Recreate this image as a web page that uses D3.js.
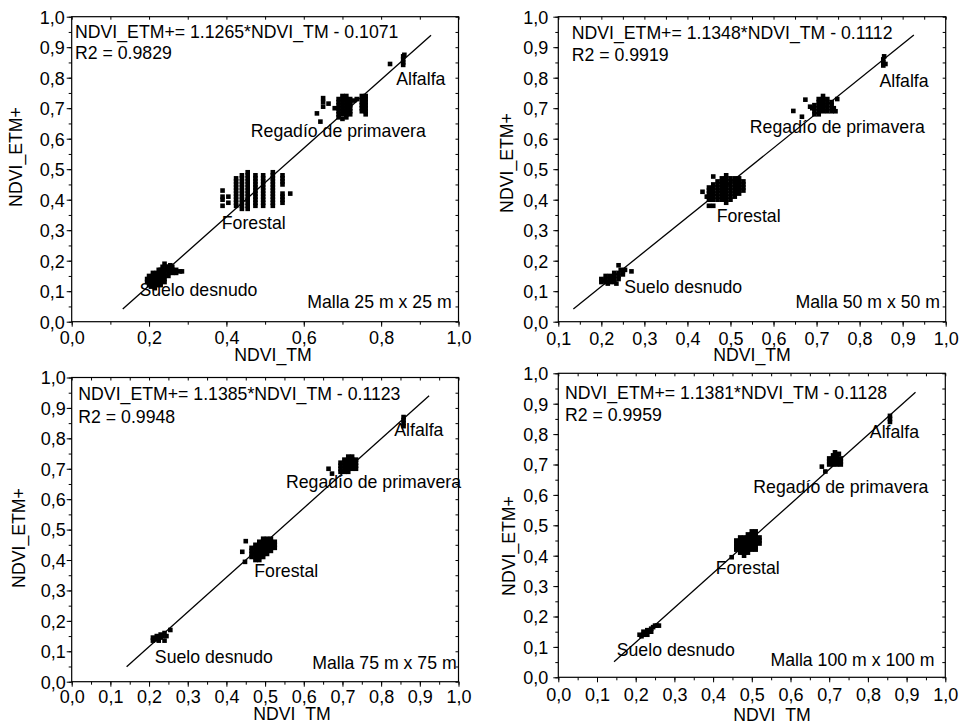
<!DOCTYPE html>
<html>
<head>
<meta charset="utf-8">
<script src="https://cdn.jsdelivr.net/npm/d3@7"></script>
<style>
  html, body { margin: 0; padding: 0; background: #fff; }
  svg text { font-family: "Liberation Sans", Arial, sans-serif; fill: #000; }
</style>
</head>
<body>
<svg id="chart" width="964" height="723"></svg>
<script>
// ---- Data: NDVI from Landsat TM (x) vs ETM+ (y), per cover class, four grid sizes ----
// Columns are written as [x, [y values]] and expanded into points.

// 25 m x 25 m
const g25Suelo = [[0.195,[0.13,0.14]],[0.20,[0.12,0.13,0.14,0.15]],[0.205,[0.115]],[0.21,[0.12,0.13,0.14,0.15,0.16]],
  [0.215,[0.11]],[0.22,[0.12,0.13,0.14,0.15,0.16]],[0.225,[0.17]],[0.23,[0.12,0.13,0.14,0.15,0.16,0.17]],[0.235,[0.18]],
  [0.24,[0.13,0.14,0.15,0.16,0.17,0.19]],[0.245,[0.18]],[0.25,[0.15,0.16,0.17,0.18]],[0.255,[0.185]],
  [0.26,[0.16,0.17,0.18]],[0.27,[0.16,0.17]],[0.28,[0.165]],[0.285,[0.165]]];
const g25Forestal = [[0.39,[0.38,0.40,0.41,0.43]],[0.405,[0.39,0.41]],
  [0.425,[0.38,0.39,0.40,0.41,0.42,0.43,0.44,0.45,0.46,0.47]],
  [0.44,[0.37,0.38,0.39,0.40,0.41,0.42,0.43,0.44,0.45,0.46,0.47,0.48]],
  [0.455,[0.37,0.38,0.39,0.40,0.41,0.42,0.43,0.44,0.45,0.46,0.47,0.48,0.49]],
  [0.475,[0.38,0.39,0.40,0.41,0.42,0.43,0.44,0.45,0.46,0.47,0.48]],
  [0.495,[0.38,0.39,0.40,0.41,0.42,0.43,0.44,0.45,0.46,0.47,0.48]],
  [0.52,[0.38,0.39,0.40,0.41,0.42,0.43,0.44,0.45,0.46,0.47,0.48,0.49]],
  [0.545,[0.39,0.40,0.41,0.42,0.45,0.46,0.47,0.48]],[0.565,[0.42]]];
const g25Regadio = [[0.634,[0.683]],[0.643,[0.656]],[0.65,[0.705,0.72,0.733]],[0.664,[0.715]],[0.68,[0.70]],
  [0.69,[0.67,0.68,0.69,0.70,0.71,0.72,0.73]],[0.70,[0.665,0.68,0.69,0.70,0.71,0.72,0.73,0.74]],
  [0.71,[0.67,0.68,0.69,0.70,0.71,0.72,0.73,0.74]],[0.72,[0.68,0.69,0.70,0.71,0.72,0.73]],
  [0.73,[0.725]],[0.737,[0.73]],[0.75,[0.69,0.70,0.71,0.72,0.73,0.74]],[0.76,[0.68,0.69,0.70,0.71,0.72,0.73,0.74]]];
const g25Alfalfa = [[0.823,[0.845]],[0.857,[0.842,0.85,0.86,0.87]],[0.86,[0.875]]];

// 50 m x 50 m
const g50Suelo = [[0.20,[0.13,0.14]],[0.205,[0.135]],[0.21,[0.13,0.14,0.15]],[0.215,[0.125]],[0.22,[0.13,0.14,0.15]],
  [0.225,[0.145]],[0.23,[0.13,0.14,0.15,0.16]],[0.235,[0.125]],[0.24,[0.14,0.15,0.16,0.185]],[0.245,[0.17]],
  [0.25,[0.155,0.165]],[0.255,[0.17]],[0.27,[0.165]]];
const g50Forestal = [[0.435,[0.426]],[0.445,[0.41]],[0.45,[0.38,0.40,0.41,0.42,0.43,0.44]],
  [0.46,[0.38,0.40,0.41,0.42,0.43,0.44,0.45,0.476]],[0.47,[0.40,0.41,0.42,0.43,0.44,0.45,0.46]],
  [0.48,[0.40,0.41,0.42,0.43,0.44,0.45,0.46,0.47]],[0.49,[0.39,0.40,0.41,0.42,0.43,0.44,0.45,0.46,0.47,0.48]],
  [0.50,[0.40,0.41,0.42,0.43,0.44,0.45,0.46,0.47]],[0.51,[0.41,0.42,0.43,0.44,0.45,0.46,0.47]],
  [0.52,[0.42,0.43,0.44,0.45,0.46,0.47]],[0.53,[0.43,0.44,0.45,0.46]]];
const g50Regadio = [[0.646,[0.691]],[0.666,[0.672]],[0.674,[0.728]],[0.685,[0.705]],[0.69,[0.70]],
  [0.695,[0.68,0.69,0.70,0.71]],[0.705,[0.68,0.69,0.70,0.71,0.72,0.73]],[0.715,[0.69,0.70,0.71,0.72,0.73,0.74]],
  [0.725,[0.69,0.70,0.71,0.72,0.73]],[0.735,[0.69,0.70,0.71,0.72]],[0.74,[0.70]],[0.744,[0.69]],[0.748,[0.73]]];
const g50Alfalfa = [[0.855,[0.84,0.85,0.86]],[0.857,[0.87]],[0.86,[0.845]]];

// 75 m x 75 m
const g75Suelo = [[0.21,[0.135,0.145]],[0.215,[0.14]],[0.22,[0.14,0.15]],[0.225,[0.135]],[0.23,[0.145,0.155]],
  [0.235,[0.15]],[0.24,[0.135,0.16]],[0.245,[0.15]],[0.255,[0.17]]];
const g75Forestal = [[0.441,[0.427]],[0.448,[0.394]],[0.45,[0.462]],[0.465,[0.41,0.42,0.43,0.44]],
  [0.475,[0.40,0.41,0.42,0.43,0.44,0.45]],[0.485,[0.40,0.41,0.42,0.43,0.44,0.45,0.46]],
  [0.495,[0.41,0.42,0.43,0.44,0.45,0.46,0.47]],[0.505,[0.42,0.43,0.44,0.45,0.46,0.47]],
  [0.515,[0.43,0.44,0.45,0.46,0.47]],[0.525,[0.44,0.45,0.46]]];
const g75Regadio = [[0.664,[0.70]],[0.673,[0.684]],[0.695,[0.69,0.70,0.71,0.72]],[0.705,[0.69,0.70,0.71,0.72,0.73]],
  [0.715,[0.69,0.70,0.71,0.72,0.73,0.74]],[0.725,[0.70,0.71,0.72,0.73,0.74]],[0.735,[0.70,0.71,0.72,0.73]]];
const g75Alfalfa = [[0.858,[0.84,0.85,0.86,0.87]]];

// 100 m x 100 m
const g100Suelo = [[0.21,[0.14]],[0.215,[0.135]],[0.22,[0.14,0.15]],[0.225,[0.145]],[0.23,[0.14,0.155]],[0.235,[0.15]],
  [0.24,[0.15,0.16]],[0.245,[0.165]],[0.25,[0.17]],[0.255,[0.17]],[0.26,[0.17]]];
const g100Forestal = [[0.448,[0.395]],[0.46,[0.42,0.43,0.44,0.45]],[0.47,[0.41,0.42,0.43,0.44,0.45,0.46]],
  [0.48,[0.40,0.41,0.42,0.43,0.44,0.45,0.46]],[0.49,[0.41,0.42,0.43,0.44,0.45,0.46,0.47]],
  [0.50,[0.42,0.43,0.44,0.45,0.46,0.47,0.48]],[0.51,[0.42,0.43,0.44,0.45,0.46,0.47,0.48]],[0.52,[0.44,0.45,0.46]]];
const g100Regadio = [[0.681,[0.693]],[0.69,[0.677]],[0.70,[0.70,0.71,0.72]],[0.71,[0.70,0.71,0.72,0.73]],
  [0.715,[0.74]],[0.72,[0.70,0.71,0.72,0.73]],[0.725,[0.735]],[0.73,[0.70,0.71,0.72]]];
const g100Alfalfa = [[0.857,[0.84,0.85,0.86]]];

// Linear fits (ETM+ = slope * TM + intercept) and the TM range each line spans
const fitSlopes     = [1.1265, 1.1348, 1.1385, 1.1381];
const fitIntercepts = [-0.1071, -0.1112, -0.1123, -0.1128];
const fitR2         = [0.9829, 0.9919, 0.9948, 0.9959];
const fitRanges     = [[0.132, 0.929], [0.135, 0.926], [0.142, 0.924], [0.144, 0.923]];
const gridLabels    = ["Malla 25 m x 25 m", "Malla 50 m x 50 m", "Malla 75 m x 75 m", "Malla 100 m x 100 m"];
const classNames    = ["Alfalfa", "Regadío de primavera", "Forestal", "Suelo desnudo"];

// ---- Layout ----
const FS = 17.7;      // annotation and title text
const FS_TICK = 18;   // tick labels
const panels = [
  { frame: [71.7, 16.7, 458.5, 321.7], xDom: [0, 1], xLabStep: 0.2, xMinStep: 0.1,
    data: [g25Suelo, g25Forestal, g25Regadio, g25Alfalfa],
    classPos: [[0.839, 0.776], [0.463, 0.607], [0.388, 0.303], [0.175, 0.084]],
    eq: [3.3, 21.6, 42.6], malla: [6.8, 13.4], yTitle: [15.7, 157], xTitle: [273, 361], yLabGap: 7, xLabDy: 22 },
  { frame: [558.3, 16.7, 945.7, 321.7], xDom: [0.1, 1], xLabStep: 0.1, xMinStep: 0.05,
    data: [g50Suelo, g50Forestal, g50Regadio, g50Alfalfa],
    classPos: [[0.846, 0.768], [0.545, 0.618], [0.468, 0.328], [0.253, 0.093]],
    eq: [13.4, 22.6, 44], malla: [5.7, 13.4], yTitle: [507, 163], xTitle: [752, 361], yLabGap: 10, xLabDy: 23 },
  { frame: [71.7, 377.5, 458.5, 681.7], xDom: [0, 1], xLabStep: 0.1, xMinStep: 0.05,
    data: [g75Suelo, g75Forestal, g75Regadio, g75Alfalfa],
    classPos: [[0.834, 0.808], [0.554, 0.638], [0.472, 0.343], [0.215, 0.06]],
    eq: [6.6, 22.5, 45], malla: [1.8, 12.4], yTitle: [19, 538], xTitle: [292, 719.5], yLabGap: 6, xLabDy: 21 },
  { frame: [558.3, 373.3, 945.3, 677.3], xDom: [0, 1], xLabStep: 0.1, xMinStep: 0.05,
    data: [g100Suelo, g100Forestal, g100Regadio, g100Alfalfa],
    classPos: [[0.805, 0.786], [0.504, 0.607], [0.407, 0.339], [0.151, 0.07]],
    eq: [6.7, 26, 47.4], malla: [10.7, 11.3], yTitle: [509, 546], xTitle: [772, 720.5], yLabGap: 10, xLabDy: 24 }
];
// class label order in classPos: Alfalfa, Regadío, Forestal, Suelo
const svg = d3.select("#chart");
const fmt = v => d3.format(".1f")(v).replace(".", ",");
const expand = cols => cols.flatMap(([x, ys]) => ys.map(y => [x, y]));
const MARK = 4.6;

panels.forEach((p, i) => {
  const [l, t, r, b] = p.frame;
  const x = d3.scaleLinear().domain(p.xDom).range([l, r]);
  const y = d3.scaleLinear().domain([0, 1]).range([b, t]);
  const g = svg.append("g");

  const eps = 1e-9;
  const xLab = d3.range(p.xDom[0], p.xDom[1] + eps, p.xLabStep).map(v => +v.toFixed(2));
  const xMin = d3.range(p.xDom[0], p.xDom[1] + eps, p.xMinStep).map(v => +v.toFixed(3));
  const yLab = d3.range(0, 1 + eps, 0.1).map(v => +v.toFixed(2));
  const yMin = d3.range(0, 1 + eps, 0.05).map(v => +v.toFixed(3));

  // bottom axis: major ticks outward with labels, minor ticks outward
  const bottom = d3.axisBottom(x).tickValues(xLab).tickFormat(fmt).tickSize(5).tickPadding(3);
  const gb = g.append("g").attr("transform", `translate(0,${b})`).call(bottom);
  gb.append("g").call(d3.axisBottom(x).tickValues(xMin).tickSize(3).tickFormat(""));
  // left axis
  const left = d3.axisLeft(y).tickValues(yLab).tickFormat(fmt).tickSize(5).tickPadding(p.yLabGap - 5);
  const gl = g.append("g").attr("transform", `translate(${l},0)`).call(left);
  gl.append("g").call(d3.axisLeft(y).tickValues(yMin).tickSize(3).tickFormat(""));
  // top & right mirrored ticks, inward
  const gt = g.append("g").attr("transform", `translate(0,${t})`).call(d3.axisBottom(x).tickValues(xMin).tickSize(3).tickFormat(""));
  const gr = g.append("g").attr("transform", `translate(${r},0)`).call(d3.axisLeft(y).tickValues(yMin).tickSize(3).tickFormat(""));

  [gb, gl, gt, gr].forEach(a => {
    a.selectAll(".domain").remove();
    a.selectAll("line").attr("stroke", "#000").attr("stroke-width", 1);
    a.selectAll("text").attr("font-size", FS_TICK).attr("font-family", '"Liberation Sans", Arial, sans-serif').attr("fill", "#000");
  });
  gb.selectAll(".tick text").attr("dy", null).attr("y", null)
    .attr("transform", `translate(0,${p.xLabDy})`);
  gl.selectAll(".tick text").attr("dy", "0.35em");

  // frame
  g.append("rect").attr("x", l).attr("y", t).attr("width", r - l).attr("height", b - t)
    .attr("fill", "none").attr("stroke", "#000").attr("stroke-width", 1.2);

  // points
  const pts = p.data.flatMap(expand);
  g.append("g").selectAll("rect").data(pts).join("rect")
    .attr("x", d => x(d[0]) - MARK / 2).attr("y", d => y(d[1]) - MARK / 2)
    .attr("width", MARK).attr("height", MARK).attr("fill", "#000");

  // regression line
  const [x0, x1] = fitRanges[i];
  const f = v => fitSlopes[i] * v + fitIntercepts[i];
  g.append("line").attr("x1", x(x0)).attr("y1", y(f(x0))).attr("x2", x(x1)).attr("y2", y(f(x1)))
    .attr("stroke", "#000").attr("stroke-width", 1.3);

  // equation text
  const eqText = `NDVI_ETM+= ${fitSlopes[i].toFixed(4)}*NDVI_TM - ${Math.abs(fitIntercepts[i]).toFixed(4)}`;
  g.append("text").attr("x", l + p.eq[0]).attr("y", t + p.eq[1]).attr("font-size", FS).text(eqText);
  g.append("text").attr("x", l + p.eq[0]).attr("y", t + p.eq[2]).attr("font-size", FS).text(`R2 = ${fitR2[i].toFixed(4)}`);

  // grid-size label
  g.append("text").attr("x", r - p.malla[0]).attr("y", b - p.malla[1]).attr("text-anchor", "end")
    .attr("font-size", FS).text(gridLabels[i]);

  // class labels
  classNames.forEach((name, k) => {
    const [cx, cy] = p.classPos[k];
    g.append("text").attr("x", x(cx)).attr("y", y(cy)).attr("font-size", FS).text(name);
  });

  // axis titles
  g.append("text").attr("x", p.xTitle[0]).attr("y", p.xTitle[1]).attr("text-anchor", "middle")
    .attr("font-size", FS).text("NDVI_TM");
  g.append("text").attr("transform", `translate(${p.yTitle[0]},${p.yTitle[1]}) rotate(-90)`)
    .attr("text-anchor", "middle").attr("dy", "0.35em").attr("font-size", FS).text("NDVI_ETM+");
});
</script>
</body>
</html>
